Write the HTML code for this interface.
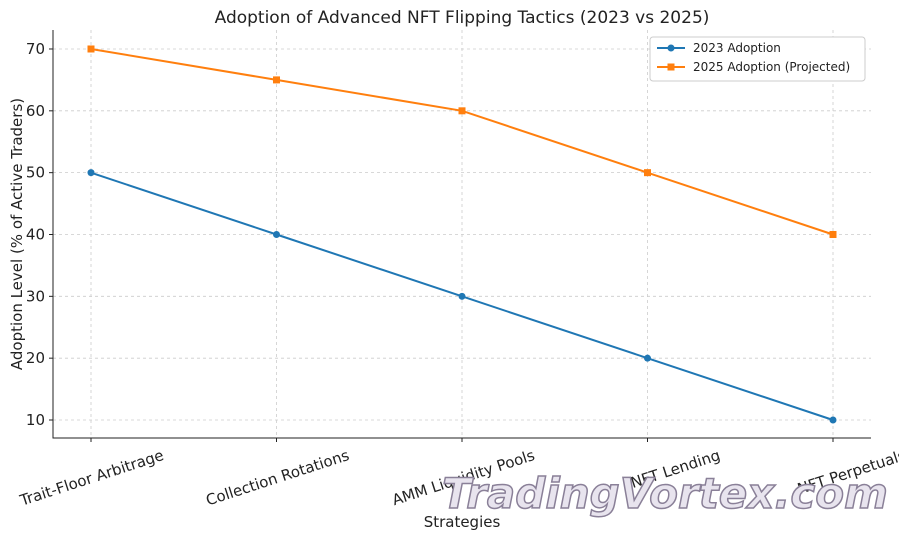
<!DOCTYPE html>
<html><head><meta charset="utf-8"><style>
body{margin:0;background:#fff;}
text{font-family:"DejaVu Sans","Liberation Sans",sans-serif;}
</style></head><body>
<svg id="chart" width="899" height="539" xmlns="http://www.w3.org/2000/svg">
<text x="462" y="23" font-size="17" text-anchor="middle" fill="#222">Adoption of Advanced NFT Flipping Tactics (2023 vs 2025)</text>
<g id="grid"></g>
<g id="axes"></g>
<g id="series"></g>
<text x="22" y="234" font-size="15" text-anchor="middle" fill="#222" transform="rotate(-90 22 234)">Adoption Level (% of Active Traders)</text>
<text x="462" y="527" font-size="15" text-anchor="middle" fill="#222">Strategies</text>
<g>
<rect x="650" y="37" width="215" height="44" fill="#fff" stroke="#ccc" rx="3"/>
<line x1="657" y1="48" x2="685" y2="48" stroke="#1f77b4" stroke-width="2"/>
<circle cx="671" cy="48" r="3.5" fill="#1f77b4"/>
<text x="693" y="52" font-size="12" fill="#222">2023 Adoption</text>
<line x1="657" y1="67" x2="685" y2="67" stroke="#ff7f0e" stroke-width="2"/>
<rect x="667.5" y="63.5" width="7" height="7" fill="#ff7f0e"/>
<text x="693" y="71" font-size="12" fill="#222">2025 Adoption (Projected)</text>
</g>
<text x="665" y="508" font-size="42" font-style="italic" font-weight="bold" text-anchor="middle" fill="#e8e4ee" stroke="#8a8098" stroke-width="1.5" font-family="Liberation Serif">TradingVortex.com</text>
</svg>
<script>
const categories=["Trait-Floor Arbitrage","Collection Rotations","AMM Liquidity Pools","NFT Lending","NFT Perpetuals"];
const adoption2023=[50,40,30,20,10];
const adoption2025=[70,65,60,50,40];
const yTicks=[10,20,30,40,50,60,70];
const NS="http://www.w3.org/2000/svg";
const L=53,R=871,T=30,B=438,yMin=7.09,yMax=73.07;
const xs=i=>91+i*(833-91)/(categories.length-1);
const ys=v=>B-(v-yMin)/(yMax-yMin)*(B-T);
function mk(tag,attrs,parent){const e=document.createElementNS(NS,tag);for(const k in attrs)e.setAttribute(k,attrs[k]);document.getElementById(parent).appendChild(e);return e;}
yTicks.forEach(v=>{
 const g=mk("line",{x1:L,x2:R,y1:ys(v),y2:ys(v),stroke:"#ccc","stroke-dasharray":"3,3","stroke-width":0.8},"grid");
 
 
 const t=mk("line",{x1:L-4,x2:L,y1:ys(v),y2:ys(v),stroke:"#222"},"axes");
 
 
 const lb=mk("text",{x:L-8,y:ys(v)+5,"font-size":15,"text-anchor":"end",fill:"#222"},"axes");
 lb.textContent=v;
 
 
});
categories.forEach((c,i)=>{
 const g=mk("line",{x1:xs(i),x2:xs(i),y1:T,y2:B,stroke:"#ccc","stroke-dasharray":"3,3","stroke-width":0.8},"grid");
 
 
 const t=mk("line",{x1:xs(i),x2:xs(i),y1:B,y2:B+4,stroke:"#222"},"axes");
 
 
 const x=xs(i)+70,y=448;
 const lb=mk("text",{x:x,y:y+12,"font-size":15,"text-anchor":"end",fill:"#222",transform:`rotate(-18 ${x} ${y})`},"axes");
 lb.textContent=c;
 
 
});
const ax=mk("path",{d:`M${L},${T}V${B}H${R}`,fill:"none",stroke:"#222","stroke-width":1},"axes");


function series(data,color,name,square){
 const p=mk("polyline",{points:data.map((v,i)=>xs(i)+","+ys(v)).join(" "),fill:"none",stroke:color,"stroke-width":2},"series");
 
 
 data.forEach((v,i)=>{
  const m=square?mk("rect",{x:xs(i)-3.5,y:ys(v)-3.5,width:7,height:7,fill:color},"series"):mk("circle",{cx:xs(i),cy:ys(v),r:3.5,fill:color},"series");
  
  
 });
}
series(adoption2023,"#1f77b4","adoption-2023",false);
series(adoption2025,"#ff7f0e","adoption-2025",true);
</script>
</body></html>
